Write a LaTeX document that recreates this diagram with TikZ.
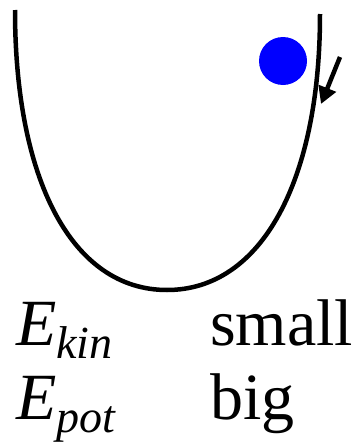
\documentclass[tikz,border=0pt]{standalone}
\usepackage{fontspec}
\setmainfont{Liberation Serif}
\usetikzlibrary{arrows.meta}

\tikzset{
  label text/.style={anchor=base west, inner sep=0pt, font=\fontsize{66}{72}\selectfont},
  well/.style={line width=4.5pt},
  force/.style={line width=4.5pt, -{Triangle[length=17pt, width=18pt]}}
}
\newcommand{\energy}[1]{\textit{E}\raisebox{-13pt}{\fontsize{46}{50}\selectfont\textit{#1}}}

\begin{document}
\begin{tikzpicture}[x=1pt, y=-1pt]
\useasboundingbox (0,0) rectangle (358,442);
% potential well
\coordinate (left top) at (15,10);
\coordinate (bottom) at (167,290);
\coordinate (right top) at (320,14);
\draw[well] (left top) .. controls (15,180) and (72,290) .. (bottom)
  .. controls (262,290) and (320,180) .. (right top);
% ball and push
\fill[blue] (283,61) circle (24);
\coordinate (push) at (340,57);
\coordinate (hit) at (321,104);
\draw[force] (push) -- (hit);
% energies
\node[label text] (ekin) at (16,345) {\energy{kin}};
\node[label text] (small) at (210,345) {small};
\node[label text] (epot) at (16,419) {\energy{pot}};
\node[label text] (big) at (210,419) {big};
\end{tikzpicture}
\end{document}
